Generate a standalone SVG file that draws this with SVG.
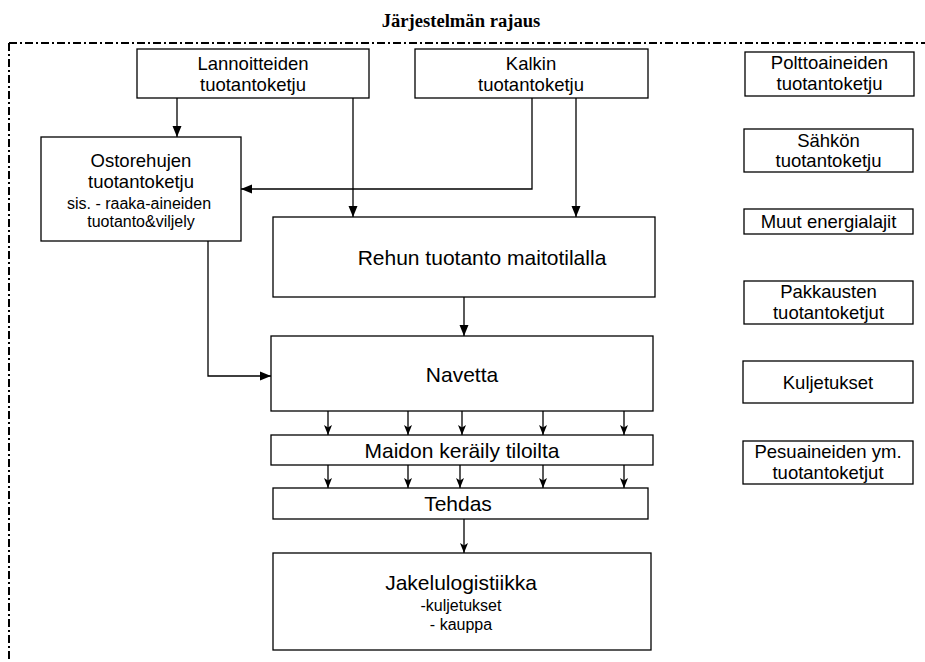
<svg xmlns="http://www.w3.org/2000/svg" width="925" height="662" viewBox="0 0 925 662">
<style>
.box{fill:#fff;stroke:#000;stroke-width:1.3}
.t{font-family:"Liberation Sans",Arial,sans-serif;fill:#000;text-anchor:middle}
.f18{font-size:18.5px}
.f21{font-size:21px}
.f16{font-size:16px}
.c{fill:none;stroke:#000;stroke-width:1.3}
.bd{fill:none;stroke:#000;stroke-width:2;stroke-dasharray:8 3 2 3}
</style>
<defs>
<marker id="ah" markerUnits="userSpaceOnUse" markerWidth="12" markerHeight="10" refX="11" refY="5" orient="auto">
<path d="M0,0.5 L11,5 L0,9.5 z" fill="#000"/>
</marker>
<marker id="as" markerUnits="userSpaceOnUse" markerWidth="11" markerHeight="9" refX="10" refY="4" orient="auto">
<path d="M0,0 L10,4 L0,8 L2.5,4 z" fill="#000"/>
</marker>
</defs>
<rect width="925" height="662" fill="#fff"/>
<text x="461" y="27" style="font-family:'Liberation Serif','Times New Roman',serif;font-weight:bold;font-size:18.6px;text-anchor:middle">Järjestelmän rajaus</text>
<g id="boundary">
<line class="bd" x1="9" y1="43" x2="925" y2="43"/>
<line class="bd" x1="9" y1="43" x2="9" y2="662"/>
</g>
<g id="connectors">
<line class="c" x1="177" y1="98" x2="177" y2="137" marker-end="url(#ah)"/>
<line class="c" x1="353" y1="98" x2="353" y2="217" marker-end="url(#ah)"/>
<polyline class="c" points="532,98 532,189 241,189" marker-end="url(#ah)"/>
<line class="c" x1="576" y1="98" x2="576" y2="217" marker-end="url(#ah)"/>
<line class="c" x1="464" y1="297" x2="464" y2="336" marker-end="url(#ah)"/>
<polyline class="c" points="208,241 208,376 271,376" marker-end="url(#ah)"/>
<line class="c" x1="328" y1="411" x2="328" y2="435" marker-end="url(#as)"/>
<line class="c" x1="408" y1="411" x2="408" y2="435" marker-end="url(#as)"/>
<line class="c" x1="462" y1="411" x2="462" y2="435" marker-end="url(#as)"/>
<line class="c" x1="543" y1="411" x2="543" y2="435" marker-end="url(#as)"/>
<line class="c" x1="624" y1="411" x2="624" y2="435" marker-end="url(#as)"/>
<line class="c" x1="328" y1="465" x2="328" y2="488" marker-end="url(#as)"/>
<line class="c" x1="408" y1="465" x2="408" y2="488" marker-end="url(#as)"/>
<line class="c" x1="460" y1="465" x2="460" y2="488" marker-end="url(#as)"/>
<line class="c" x1="543" y1="465" x2="543" y2="488" marker-end="url(#as)"/>
<line class="c" x1="624" y1="465" x2="624" y2="488" marker-end="url(#as)"/>
<line class="c" x1="464" y1="519" x2="464" y2="553" marker-end="url(#as)"/>
</g>
<g id="lannoitteiden">
<rect class="box" x="137" y="49" width="232" height="49"/>
<text class="t f18" x="253" y="69.5">Lannoitteiden</text>
<text class="t f18" x="253" y="90.5">tuotantoketju</text>
</g>
<g id="kalkin">
<rect class="box" x="415" y="49" width="233" height="49"/>
<text class="t f18" x="531" y="69.5">Kalkin</text>
<text class="t f18" x="531" y="90.5">tuotantoketju</text>
</g>
<g id="ostorehujen">
<rect class="box" x="41" y="137" width="200" height="104"/>
<text class="t f18" x="141" y="167">Ostorehujen</text>
<text class="t f18" x="141" y="188">tuotantoketju</text>
<text class="t f16" x="139" y="209">sis. - raaka-aineiden</text>
<text class="t f16" x="141" y="227">tuotanto&amp;viljely</text>
</g>
<g id="rehun">
<rect class="box" x="273" y="217" width="382" height="80"/>
<text class="t f21" x="482" y="265">Rehun tuotanto maitotilalla</text>
</g>
<g id="navetta">
<rect class="box" x="271" y="336" width="382" height="75"/>
<text class="t f21" x="462" y="382">Navetta</text>
</g>
<g id="maidon">
<rect class="box" x="271" y="435" width="382" height="30"/>
<text class="t f21" x="462" y="458">Maidon keräily tiloilta</text>
</g>
<g id="tehdas">
<rect class="box" x="273" y="488" width="375" height="31"/>
<text class="t f21" x="458" y="511">Tehdas</text>
</g>
<g id="jakelulogistiikka">
<rect class="box" x="273" y="553" width="378" height="97"/>
<text class="t f21" x="461" y="590">Jakelulogistiikka</text>
<text class="t f16" x="461" y="611">-kuljetukset</text>
<text class="t f16" x="461" y="630">- kauppa</text>
</g>
<g id="polttoaineiden">
<rect class="box" x="745" y="52" width="169" height="44"/>
<text class="t f18" x="829.5" y="69">Polttoaineiden</text>
<text class="t f18" x="829.5" y="90">tuotantoketju</text>
</g>
<g id="sahkon">
<rect class="box" x="744" y="129" width="169" height="43"/>
<text class="t f18" x="828.5" y="146.5">Sähkön</text>
<text class="t f18" x="828.5" y="167">tuotantoketju</text>
</g>
<g id="muut">
<rect class="box" x="744" y="209" width="169" height="25"/>
<text class="t f18" x="828.5" y="227.5">Muut energialajit</text>
</g>
<g id="pakkausten">
<rect class="box" x="744" y="281" width="169" height="43"/>
<text class="t f18" x="828.5" y="298">Pakkausten</text>
<text class="t f18" x="828.5" y="319">tuotantoketjut</text>
</g>
<g id="kuljetukset">
<rect class="box" x="743" y="361" width="170" height="42"/>
<text class="t f18" x="828" y="388.5">Kuljetukset</text>
</g>
<g id="pesuaineiden">
<rect class="box" x="743" y="441" width="170" height="43"/>
<text class="t f18" x="828" y="458">Pesuaineiden ym.</text>
<text class="t f18" x="828" y="479">tuotantoketjut</text>
</g>
</svg>
